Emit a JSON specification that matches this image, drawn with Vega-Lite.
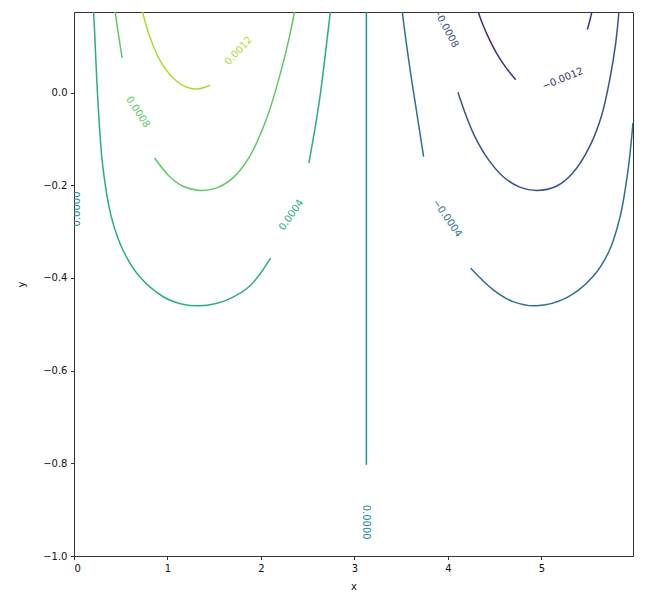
{
  "$schema": "https://vega.github.io/schema/vega-lite/v6.json",
  "width": 559,
  "height": 544,
  "autosize": {"type": "none"},
  "padding": {"left": 74, "top": 12, "right": 36, "bottom": 50},
  "config": {
    "font": "DejaVu Sans",
    "view": {"stroke": "#333333", "strokeWidth": 1},
    "axis": {
      "grid": false,
      "domainColor": "#333333",
      "tickColor": "#333333",
      "tickSize": 3.5,
      "labelColor": "#111111",
      "labelFontSize": 10,
      "labelFont": "DejaVu Sans",
      "labelPadding": 3.5,
      "titleFont": "DejaVu Sans",
      "titleFontSize": 10,
      "titleFontWeight": "normal",
      "titleColor": "#111111",
      "zindex": 1
    }
  },
  "datasets": {
    "lines": [
      {"level": "0.0000", "seg": "zpi", "i": 0, "x": 3.128, "y": 0.2},
      {"level": "0.0000", "seg": "zpi", "i": 1, "x": 3.128, "y": -0.803},

      {"level": "0.0004", "seg": "p4a", "i": 0, "x": 0.198, "y": 0.2},
      {"level": "0.0004", "seg": "p4a", "i": 1, "x": 0.209, "y": 0.176},
      {"level": "0.0004", "seg": "p4a", "i": 2, "x": 0.255, "y": -0.015},
      {"level": "0.0004", "seg": "p4a", "i": 3, "x": 0.308, "y": -0.159},
      {"level": "0.0004", "seg": "p4a", "i": 4, "x": 0.398, "y": -0.267},
      {"level": "0.0004", "seg": "p4a", "i": 5, "x": 0.522, "y": -0.339},
      {"level": "0.0004", "seg": "p4a", "i": 6, "x": 0.701, "y": -0.397},
      {"level": "0.0004", "seg": "p4a", "i": 7, "x": 0.951, "y": -0.44},
      {"level": "0.0004", "seg": "p4a", "i": 8, "x": 1.15, "y": -0.456},
      {"level": "0.0004", "seg": "p4a", "i": 9, "x": 1.343, "y": -0.46},
      {"level": "0.0004", "seg": "p4a", "i": 10, "x": 1.52, "y": -0.455},
      {"level": "0.0004", "seg": "p4a", "i": 11, "x": 1.664, "y": -0.445},
      {"level": "0.0004", "seg": "p4a", "i": 12, "x": 1.878, "y": -0.418},
      {"level": "0.0004", "seg": "p4a", "i": 13, "x": 2.103, "y": -0.357},
      {"level": "0.0004", "seg": "p4b", "i": 0, "x": 2.513, "y": -0.152},
      {"level": "0.0004", "seg": "p4b", "i": 1, "x": 2.627, "y": -0.015},
      {"level": "0.0004", "seg": "p4b", "i": 2, "x": 2.745, "y": 0.176},
      {"level": "0.0004", "seg": "p4b", "i": 3, "x": 2.765, "y": 0.2},

      {"level": "0.0008", "seg": "p8a", "i": 0, "x": 0.434, "y": 0.2},
      {"level": "0.0008", "seg": "p8a", "i": 1, "x": 0.441, "y": 0.176},
      {"level": "0.0008", "seg": "p8a", "i": 2, "x": 0.515, "y": 0.075},
      {"level": "0.0008", "seg": "p8b", "i": 0, "x": 0.862, "y": -0.141},
      {"level": "0.0008", "seg": "p8b", "i": 1, "x": 1.022, "y": -0.181},
      {"level": "0.0008", "seg": "p8b", "i": 2, "x": 1.165, "y": -0.202},
      {"level": "0.0008", "seg": "p8b", "i": 3, "x": 1.343, "y": -0.211},
      {"level": "0.0008", "seg": "p8b", "i": 4, "x": 1.521, "y": -0.206},
      {"level": "0.0008", "seg": "p8b", "i": 5, "x": 1.7, "y": -0.184},
      {"level": "0.0008", "seg": "p8b", "i": 6, "x": 1.878, "y": -0.138},
      {"level": "0.0008", "seg": "p8b", "i": 7, "x": 2.057, "y": -0.058},
      {"level": "0.0008", "seg": "p8b", "i": 8, "x": 2.199, "y": 0.035},
      {"level": "0.0008", "seg": "p8b", "i": 9, "x": 2.306, "y": 0.122},
      {"level": "0.0008", "seg": "p8b", "i": 10, "x": 2.36, "y": 0.176},
      {"level": "0.0008", "seg": "p8b", "i": 11, "x": 2.38, "y": 0.2},

      {"level": "0.0012", "seg": "p12a", "i": 0, "x": 0.7, "y": 0.2},
      {"level": "0.0012", "seg": "p12a", "i": 1, "x": 0.73, "y": 0.176},
      {"level": "0.0012", "seg": "p12a", "i": 2, "x": 0.808, "y": 0.122},
      {"level": "0.0012", "seg": "p12a", "i": 3, "x": 0.915, "y": 0.071},
      {"level": "0.0012", "seg": "p12a", "i": 4, "x": 1.058, "y": 0.032},
      {"level": "0.0012", "seg": "p12a", "i": 5, "x": 1.2, "y": 0.012},
      {"level": "0.0012", "seg": "p12a", "i": 6, "x": 1.325, "y": 0.008},
      {"level": "0.0012", "seg": "p12a", "i": 7, "x": 1.457, "y": 0.016},

      {"level": "-0.0004", "seg": "m4a", "i": 0, "x": 3.505, "y": 0.2},
      {"level": "-0.0004", "seg": "m4a", "i": 1, "x": 3.512, "y": 0.176},
      {"level": "-0.0004", "seg": "m4a", "i": 2, "x": 3.59, "y": 0.057},
      {"level": "-0.0004", "seg": "m4a", "i": 3, "x": 3.662, "y": -0.037},
      {"level": "-0.0004", "seg": "m4a", "i": 4, "x": 3.74, "y": -0.138},
      {"level": "-0.0004", "seg": "m4b", "i": 0, "x": 4.243, "y": -0.379},
      {"level": "-0.0004", "seg": "m4b", "i": 1, "x": 4.482, "y": -0.425},
      {"level": "-0.0004", "seg": "m4b", "i": 2, "x": 4.696, "y": -0.451},
      {"level": "-0.0004", "seg": "m4b", "i": 3, "x": 4.946, "y": -0.46},
      {"level": "-0.0004", "seg": "m4b", "i": 4, "x": 5.267, "y": -0.443},
      {"level": "-0.0004", "seg": "m4b", "i": 5, "x": 5.552, "y": -0.397},
      {"level": "-0.0004", "seg": "m4b", "i": 6, "x": 5.731, "y": -0.339},
      {"level": "-0.0004", "seg": "m4b", "i": 7, "x": 5.845, "y": -0.265},
      {"level": "-0.0004", "seg": "m4b", "i": 8, "x": 5.925, "y": -0.17},
      {"level": "-0.0004", "seg": "m4b", "i": 9, "x": 5.98, "y": -0.065},

      {"level": "-0.0008", "seg": "m8b", "i": 0, "x": 4.107, "y": 0.001},
      {"level": "-0.0008", "seg": "m8b", "i": 1, "x": 4.197, "y": -0.051},
      {"level": "-0.0008", "seg": "m8b", "i": 2, "x": 4.286, "y": -0.094},
      {"level": "-0.0008", "seg": "m8b", "i": 3, "x": 4.411, "y": -0.138},
      {"level": "-0.0008", "seg": "m8b", "i": 4, "x": 4.589, "y": -0.181},
      {"level": "-0.0008", "seg": "m8b", "i": 5, "x": 4.768, "y": -0.204},
      {"level": "-0.0008", "seg": "m8b", "i": 6, "x": 4.946, "y": -0.211},
      {"level": "-0.0008", "seg": "m8b", "i": 7, "x": 5.16, "y": -0.202},
      {"level": "-0.0008", "seg": "m8b", "i": 8, "x": 5.338, "y": -0.173},
      {"level": "-0.0008", "seg": "m8b", "i": 9, "x": 5.517, "y": -0.116},
      {"level": "-0.0008", "seg": "m8b", "i": 10, "x": 5.642, "y": -0.051},
      {"level": "-0.0008", "seg": "m8b", "i": 11, "x": 5.731, "y": 0.028},
      {"level": "-0.0008", "seg": "m8b", "i": 12, "x": 5.795, "y": 0.107},
      {"level": "-0.0008", "seg": "m8b", "i": 13, "x": 5.83, "y": 0.176},
      {"level": "-0.0008", "seg": "m8b", "i": 14, "x": 5.838, "y": 0.2},

      {"level": "-0.0012", "seg": "m12a", "i": 0, "x": 4.297, "y": 0.2},
      {"level": "-0.0012", "seg": "m12a", "i": 1, "x": 4.322, "y": 0.176},
      {"level": "-0.0012", "seg": "m12a", "i": 2, "x": 4.411, "y": 0.129},
      {"level": "-0.0012", "seg": "m12a", "i": 3, "x": 4.518, "y": 0.086},
      {"level": "-0.0012", "seg": "m12a", "i": 4, "x": 4.625, "y": 0.053},
      {"level": "-0.0012", "seg": "m12a", "i": 5, "x": 4.725, "y": 0.028},
      {"level": "-0.0012", "seg": "m12b", "i": 0, "x": 5.492, "y": 0.136},
      {"level": "-0.0012", "seg": "m12b", "i": 1, "x": 5.542, "y": 0.176},
      {"level": "-0.0012", "seg": "m12b", "i": 2, "x": 5.56, "y": 0.2}
    ],
    "labels": [
      {"id": "a", "level": "0.0012", "text": "0.0012", "x": 1.76, "y": 0.09},
      {"id": "b", "level": "0.0008", "text": "0.0008", "x": 0.683, "y": -0.042},
      {"id": "c", "level": "0.0004", "text": "0.0004", "x": 2.324, "y": -0.264},
      {"id": "d", "level": "0.0000", "text": "0.0000", "x": 0.037, "y": -0.251},
      {"id": "e", "level": "0.0000", "text": "0.0000", "x": 3.127, "y": -0.927},
      {"id": "f", "level": "-0.0004", "text": "−0.0004", "x": 3.992, "y": -0.271},
      {"id": "g", "level": "-0.0008", "text": "−0.0008", "x": 3.976, "y": 0.14},
      {"id": "h", "level": "-0.0012", "text": "−0.0012", "x": 5.228, "y": 0.03}
    ]
  },
  "encoding": {
    "x": {"field": "x", "type": "quantitative", "scale": {"domain": [0, 5.98], "nice": false, "zero": false},
      "axis": {"values": [0, 1, 2, 3, 4, 5], "format": "d", "title": "x", "titlePadding": 8}},
    "y": {"field": "y", "type": "quantitative", "scale": {"domain": [-1.0, 0.174], "nice": false, "zero": false},
      "axis": {"values": [-1.0, -0.8, -0.6, -0.4, -0.2, 0.0], "format": ".1f", "title": "y", "titlePadding": 16}},
    "color": {"field": "level", "type": "nominal", "legend": null,
      "scale": {"domain": ["-0.0012", "-0.0008", "-0.0004", "0.0000", "0.0004", "0.0008", "0.0012"],
        "range": ["#472c7a", "#3b528b", "#2c728e", "#21918c", "#28ae80", "#5ec962", "#addc30"]}}
  },
  "layer": [
    {"data": {"name": "lines"}, "mark": {"type": "line", "strokeWidth": 1.5, "clip": true, "interpolate": "catmull-rom"},
      "encoding": {"detail": {"field": "seg"}, "order": {"field": "i", "type": "quantitative"}}},
    {"data": {"name": "labels"}, "transform": [{"filter": "datum.id == 'a'"}], "mark": {"type": "text", "angle": -47, "fontSize": 10, "clip": true}, "encoding": {"text": {"field": "text"}}},
    {"data": {"name": "labels"}, "transform": [{"filter": "datum.id == 'b'"}], "mark": {"type": "text", "angle": 57, "fontSize": 10, "clip": true}, "encoding": {"text": {"field": "text"}}},
    {"data": {"name": "labels"}, "transform": [{"filter": "datum.id == 'c'"}], "mark": {"type": "text", "angle": -55, "fontSize": 10, "clip": true}, "encoding": {"text": {"field": "text"}}},
    {"data": {"name": "labels"}, "transform": [{"filter": "datum.id == 'd'"}], "mark": {"type": "text", "angle": -90, "fontSize": 10, "clip": true}, "encoding": {"text": {"field": "text"}}},
    {"data": {"name": "labels"}, "transform": [{"filter": "datum.id == 'e'"}], "mark": {"type": "text", "angle": 90, "fontSize": 10, "clip": true}, "encoding": {"text": {"field": "text"}}},
    {"data": {"name": "labels"}, "transform": [{"filter": "datum.id == 'f'"}], "mark": {"type": "text", "angle": 55, "fontSize": 10, "clip": true}, "encoding": {"text": {"field": "text"}}},
    {"data": {"name": "labels"}, "transform": [{"filter": "datum.id == 'g'"}], "mark": {"type": "text", "angle": 62, "fontSize": 10, "clip": true}, "encoding": {"text": {"field": "text"}}},
    {"data": {"name": "labels"}, "transform": [{"filter": "datum.id == 'h'"}], "mark": {"type": "text", "angle": -22, "fontSize": 10, "clip": true}, "encoding": {"text": {"field": "text"}}}
  ]
}
